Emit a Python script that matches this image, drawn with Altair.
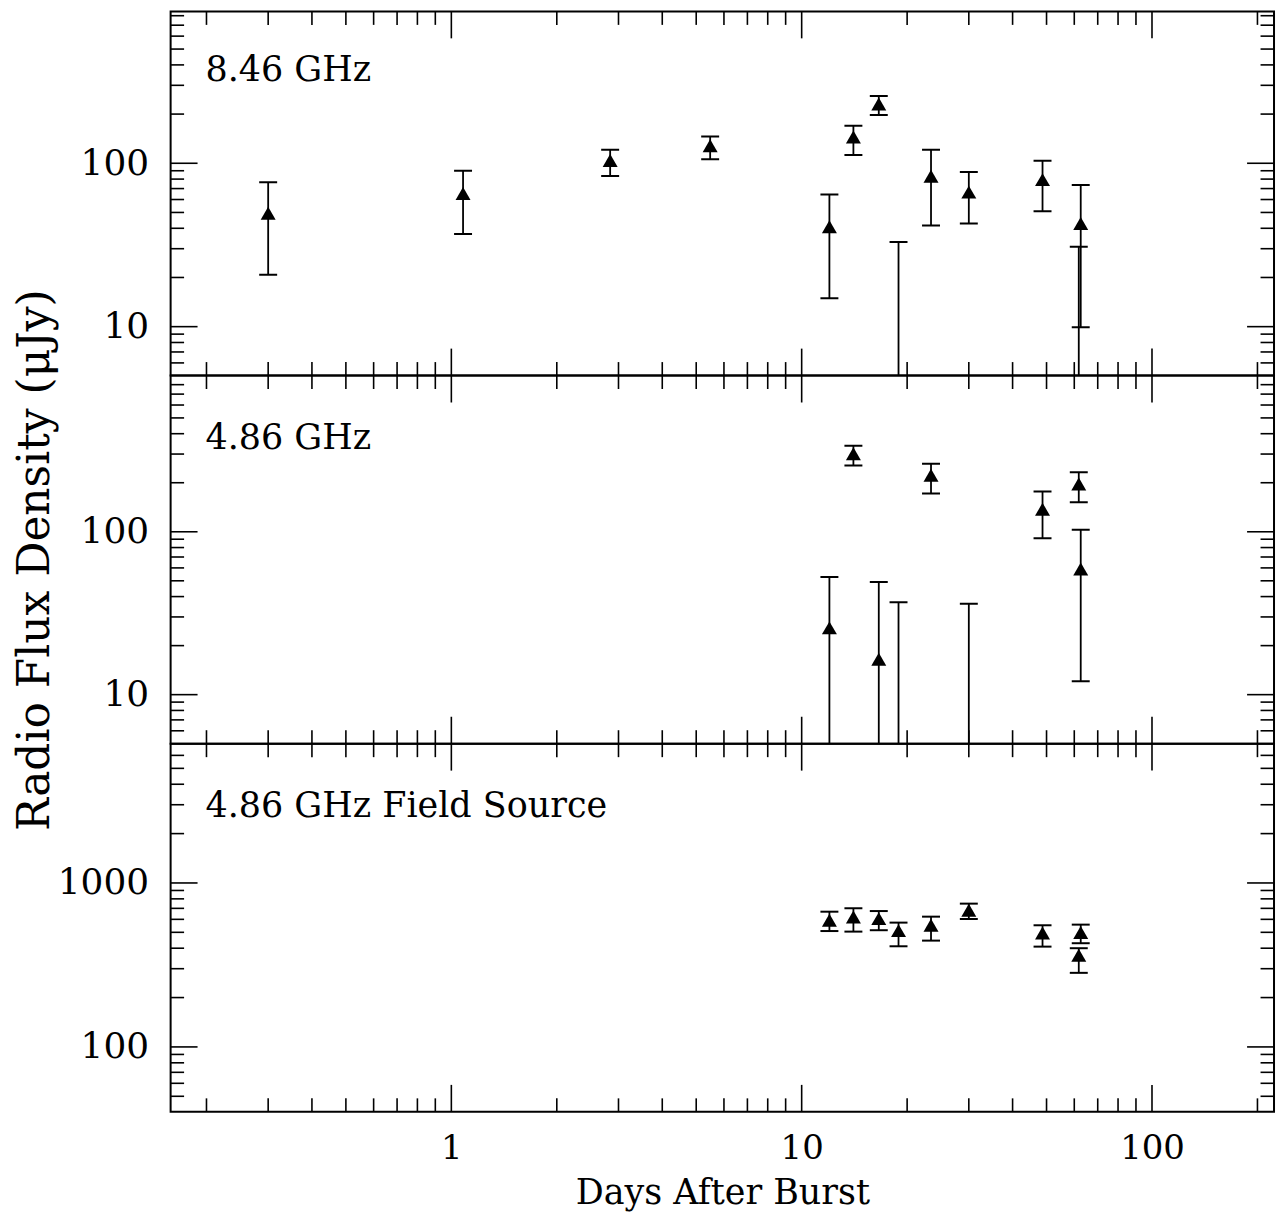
import altair as alt
import pandas as pd

FONT = "DejaVu Serif"

# ---------------- shared x axis ----------------
x_domain = [0.158, 223]
x_major = [1, 10, 100]
x_minor = [0.2, 0.3, 0.4, 0.5, 0.6, 0.7, 0.8, 0.9,
           2, 3, 4, 5, 6, 7, 8, 9,
           20, 30, 40, 50, 60, 70, 80, 90, 200]
x_labels = [1, 10, 100]

# ---------------- panel 1: 8.46 GHz ----------------
p1_label = "8.46 GHz"
p1_days = [0.30, 1.08, 2.84, 5.48, 12.0, 14.05, 16.6, 18.9, 23.4, 30.0, 48.7, 62.6, 61.8]
p1_flux = [49.4, 65.3, 104, 128, 40.9, 144.6, 230.7, None, 83.3, 66.6, 79.4, 42.8, None]
p1_hi = [76.6, 90.1, 121, 146, 64.4, 169.5, 258, 33.0, 121, 88.5, 103.7, 73.5, 30.8]
p1_lo = [20.8, 36.9, 83.7, 106, 14.9, 112.4, 197.7, 1, 41.6, 42.8, 50.9, 9.9, 1]
p1_ydom = [5.02, 850]
p1_major = [10, 100]
p1_minor = [6, 7, 8, 9, 20, 30, 40, 50, 60, 70, 80, 90, 200, 300, 400, 500, 600, 700, 800]
p1_ylabels = [10, 100]

# ---------------- panel 2: 4.86 GHz ----------------
p2_label = "4.86 GHz"
p2_days = [12.0, 14.05, 16.6, 18.9, 23.4, 30.0, 48.7, 61.8, 62.6]
p2_flux = [25.7, 301, 16.5, None, 222, None, 137.5, 196.7, 59.0]
p2_hi = [52.7, 337, 49.2, 36.9, 262, 36.1, 176.6, 231.6, 102.9]
p2_lo = [1, 255, 1, 1, 172, 1, 91.4, 151.7, 12.1]
p2_ydom = [5.0, 910]
p2_major = [10, 100]
p2_minor = [6, 7, 8, 9, 20, 30, 40, 50, 60, 70, 80, 90, 200, 300, 400, 500, 600, 700, 800]
p2_ylabels = [10, 100]

# ---------------- panel 3: 4.86 GHz field source ----------------
p3_label = "4.86 GHz Field Source"
p3_days = [12.0, 14.05, 16.6, 18.9, 23.4, 30.0, 48.7, 62.6, 61.8]
p3_flux = [592, 620, 606, 512, 552, 682, 495, 498, 362]
p3_hi = [668, 701, 674, 573, 623, 748, 552, 557, 400]
p3_lo = [509, 505, 515, 411, 445, 603, 409, 429, 283]
p3_ydom = [40.2, 7070]
p3_major = [100, 1000]
p3_minor = [50, 60, 70, 80, 90, 200, 300, 400, 500, 600, 700, 800, 900,
            2000, 3000, 4000, 5000, 6000]
p3_ylabels = [100, 1000]

W = 1106
MAJ = 27
MIN = 13.5
TICK_W = 1.6


def panel(days, flux, hi, lo, label, ydom, ymajor, yminor, ylabels, h, label_y,
          xaxis, ytitle=None):
    df = pd.DataFrame({"days": days, "flux": flux, "hi": hi, "lo": lo})
    xs = alt.Scale(type="log", domain=x_domain, nice=False)
    ys = alt.Scale(type="log", domain=ydom, nice=False)
    yaxis_kw = dict(values=ylabels, format="~g", ticks=False, tickSize=0, domain=False,
                    grid=False, labelFont=FONT, labelFontSize=36, labelColor="black",
                    labelPadding=22, labelOverlap=False)
    if ytitle:
        yaxis = alt.Axis(title=ytitle, titleFont=FONT, titleFontSize=44,
                         titleFontWeight="normal", titleColor="black",
                         titlePadding=23, **yaxis_kw)
    else:
        yaxis = alt.Axis(title=None, **yaxis_kw)
    X = alt.X("days:Q", scale=xs, axis=xaxis)
    Yf = alt.Y("flux:Q", scale=ys, axis=yaxis)
    Yhi = alt.Y("hi:Q", scale=ys, axis=yaxis)
    Ylo = alt.Y("lo:Q", scale=ys, axis=yaxis)

    base = alt.Chart(df)
    bars = base.mark_rule(clip=True, strokeWidth=1.8, color="black").encode(
        x=X, y=Yhi, y2="lo:Q")
    cap_hi = base.mark_tick(orient="horizontal", size=18, thickness=2, clip=True,
                            color="black", opacity=1).encode(x=X, y=Yhi)
    cap_lo = base.mark_tick(orient="horizontal", size=18, thickness=2, clip=True,
                            color="black", opacity=1).encode(x=X, y=Ylo)
    pts = base.mark_point(shape="triangle-up", filled=True, size=225, color="black",
                          opacity=1).encode(x=X, y=Yf)

    xmaj = alt.Chart(pd.DataFrame({"days": x_major}))
    xmin = alt.Chart(pd.DataFrame({"days": x_minor}))
    ymaj = alt.Chart(pd.DataFrame({"flux": ymajor}))
    ymin = alt.Chart(pd.DataFrame({"flux": yminor}))
    rk = dict(strokeWidth=TICK_W, color="black")
    ticks = [
        xmaj.mark_rule(**rk).encode(x=X, y=alt.value(h), y2=alt.value(h - MAJ)),
        xmaj.mark_rule(**rk).encode(x=X, y=alt.value(0), y2=alt.value(MAJ)),
        xmin.mark_rule(**rk).encode(x=X, y=alt.value(h), y2=alt.value(h - MIN)),
        xmin.mark_rule(**rk).encode(x=X, y=alt.value(0), y2=alt.value(MIN)),
        ymaj.mark_rule(**rk).encode(y=Yf, x=alt.value(0), x2=alt.value(MAJ)),
        ymaj.mark_rule(**rk).encode(y=Yf, x=alt.value(W), x2=alt.value(W - MAJ)),
        ymin.mark_rule(**rk).encode(y=Yf, x=alt.value(0), x2=alt.value(MIN)),
        ymin.mark_rule(**rk).encode(y=Yf, x=alt.value(W), x2=alt.value(W - MIN)),
    ]
    txt = alt.Chart(pd.DataFrame({"label": [label]})).mark_text(
        align="left", baseline="alphabetic", font=FONT, fontSize=35, color="black"
    ).encode(x=alt.value(35), y=alt.value(label_y), text="label:N")

    return alt.layer(bars, cap_hi, cap_lo, pts, *ticks, txt).properties(width=W, height=h)


bottom_xaxis = alt.Axis(values=x_labels, format="~g", ticks=False, tickSize=0, domain=False,
                        grid=False, labelFont=FONT, labelFontSize=34, labelColor="black",
                        labelPadding=20, labelFlush=False, labelOverlap=False,
                        title="Days After Burst", titleFont=FONT, titleFontSize=35,
                        titleFontWeight="normal", titleColor="black", titlePadding=10)

c1 = panel(p1_days, p1_flux, p1_hi, p1_lo, p1_label, p1_ydom, p1_major, p1_minor,
           p1_ylabels, 365, 70, None)
c2 = panel(p2_days, p2_flux, p2_hi, p2_lo, p2_label, p2_ydom, p2_major, p2_minor,
           p2_ylabels, 369, 73.5, None, ytitle="Radio Flux Density (μJy)")
c3 = panel(p3_days, p3_flux, p3_hi, p3_lo, p3_label, p3_ydom, p3_major, p3_minor,
           p3_ylabels, 369, 73.3, bottom_xaxis)

chart = alt.vconcat(c1, c2, c3, spacing=0, bounds="flush").properties(
    padding={"left": 4, "top": 0, "right": 4, "bottom": 0},
    background="white",
).configure_view(stroke="black", strokeWidth=2)

chart.save("out.html", embed_options={"renderer": "svg", "actions": False})
